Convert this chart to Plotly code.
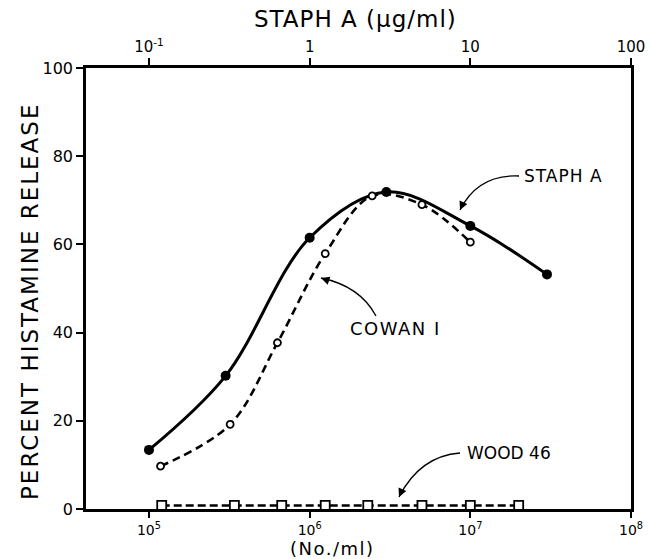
import plotly.graph_objects as go

# ---- data ----
staph_x = [1e5, 3e5, 1e6, 3e6, 1e7, 3e7]
staph_y = [13.4, 30.2, 61.5, 71.9, 64.2, 53.2]

cowan_x = [1.18e5, 3.2e5, 6.3e5, 1.25e6, 2.45e6, 5e6, 1e7]
cowan_y = [9.7, 19.2, 37.7, 57.9, 71.0, 69.0, 60.5]

wood_x = [1.2e5, 3.4e5, 6.7e5, 1.25e6, 2.3e6, 5e6, 1e7, 2e7]
wood_y = [0.8, 0.8, 0.8, 0.8, 0.8, 0.8, 0.8, 0.8]

bottom_tickvals = [1e5, 1e6, 1e7, 1e8]
bottom_ticktext = ["10<sup>5</sup>", "10<sup>6</sup>", "10<sup>7</sup>", "10<sup>8</sup>"]
top_tickvals = [0.1, 1, 10, 100]
top_ticktext = ["10<sup>-1</sup>", "1", "10", "100"]
y_tickvals = [0, 20, 40, 60, 80, 100]

FONT = "DejaVu Sans"
W, H = 649, 559
# plot area in screen pixels: x 86..631, y 68..509
L, T = 86, 68
R = W - 631
B = H - 509

fig = go.Figure()
fig.add_trace(go.Scatter(
    x=staph_x, y=staph_y, mode="lines+markers", line=dict(color="black", width=3, shape="spline"),
    marker=dict(symbol="circle", size=10, color="black"), showlegend=False))
fig.add_trace(go.Scatter(
    x=cowan_x, y=cowan_y, mode="lines+markers",
    line=dict(color="black", width=2.6, shape="spline", dash="8px,5px"),
    marker=dict(symbol="circle", size=7, color="white", line=dict(color="black", width=1.8)),
    showlegend=False))
fig.add_trace(go.Scatter(
    x=wood_x, y=wood_y, mode="lines+markers",
    line=dict(color="black", width=2.6, dash="8px,4px"),
    marker=dict(symbol="square", size=9, color="white", line=dict(color="black", width=1.8)),
    showlegend=False))
# invisible trace to activate the top axis
fig.add_trace(go.Scatter(x=[0.1, 100], y=[None, None], xaxis="x2", showlegend=False, hoverinfo="skip"))

pw = W - L - R
ph = H - T - B


def px(xp):
    return (xp - L) / pw


def py(yp):
    return (H - B - yp) / ph


shapes = []
annotations = []


def curved_arrow(x0, y0, cx, cy, x1, y1, hx, hy):
    shapes.append(dict(type="path", xref="paper", yref="paper",
                       path=f"M {px(x0)},{py(y0)} Q {px(cx)},{py(cy)} {px(x1)},{py(y1)}",
                       line=dict(color="black", width=1.3)))
    annotations.append(dict(x=px(x1), y=py(y1), xref="paper", yref="paper", text="",
                            showarrow=True, arrowhead=2, arrowsize=1.3, arrowwidth=1.3,
                            arrowcolor="black", ax=hx, ay=hy))


curved_arrow(519, 176, 478, 174, 460, 210, 4, -9)
curved_arrow(376, 316, 360, 286, 321, 278, 9, 3)
curved_arrow(460, 453, 420, 456, 399, 497, 4, -9)


def label(xp, yp, text, size, xanchor="left", angle=0, ls=0):
    if ls:
        text = f'<span style="letter-spacing:{ls}px">{text}</span>'
    annotations.append(dict(x=px(xp), y=py(yp), xref="paper", yref="paper", text=text,
                            showarrow=False, xanchor=xanchor, yanchor="middle", textangle=angle,
                            font=dict(family=FONT, size=size, color="black")))


label(522, 176, "STAPH A", 17, ls=1)
label(348, 328, "COWAN I", 18, ls=1.5)
label(465, 453, "WOOD 46", 17)
label(355, 19, "STAPH A (µg/ml)", 23, xanchor="center", ls=1)
label(332, 548, "(No./ml)", 18, xanchor="center", ls=1.5)
label(30, 302, "PERCENT HISTAMINE RELEASE", 23, xanchor="center", angle=-90, ls=2)

fig.update_layout(
    width=W, height=H, margin=dict(l=L, r=R, t=T, b=B, autoexpand=False),
    paper_bgcolor="white", plot_bgcolor="white",
    font=dict(family=FONT, color="black", size=16),
    xaxis=dict(type="log", range=[4.608, 8], tickvals=bottom_tickvals, ticktext=bottom_ticktext,
               showline=True, linewidth=2.5, linecolor="black", ticks="outside", ticklen=6,
               tickwidth=2, tickcolor="black", showgrid=False, zeroline=False,
               tickfont=dict(size=14), automargin=False),
    xaxis2=dict(type="log", range=[-1.392, 2], overlaying="x", side="top", anchor="y",
                tickvals=top_tickvals, ticktext=top_ticktext,
                showline=True, linewidth=2.5, linecolor="black", ticks="outside", ticklen=7,
                tickwidth=2, tickcolor="black", showgrid=False, zeroline=False,
                tickfont=dict(size=15), automargin=False),
    yaxis=dict(range=[0, 100], tickvals=y_tickvals, showline=True, mirror=True, linewidth=2.5,
               linecolor="black", ticks="outside", ticklen=7, tickwidth=2, tickcolor="black",
               showgrid=False, zeroline=False, tickfont=dict(size=16), automargin=False),
    shapes=shapes, annotations=annotations,
)

fig.write_html("out.html", config={"displayModeBar": False},
               post_script="document.body.style.margin='0';document.body.style.overflow='hidden';")
